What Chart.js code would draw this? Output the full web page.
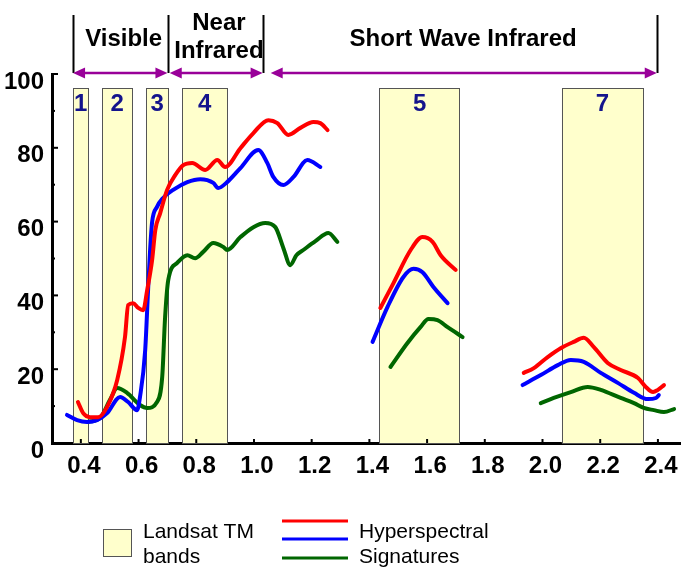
<!DOCTYPE html>
<html>
<head>
<meta charset="utf-8">
<script src="https://cdn.jsdelivr.net/npm/chart.js@4.4.1/dist/chart.umd.min.js"></script>
<style>
  body { margin: 0; background: #fff; }
  #spectra { display: block; }
</style>
</head>
<body>
<canvas id="spectra" width="681" height="568"></canvas>
<script>
// wavelength (um) / reflectance (%), null = break in the line
const redWl = [0.390, 0.408, 0.432, 0.460, 0.491, 0.526, 0.553, 0.564, 0.581, 0.599, 0.616, 0.630, 0.647, 0.658, 0.675, 0.699, 0.727, 0.755, 0.786, 0.831, 0.873, 0.900, 0.953, 0.998, 1.050, 1.081, 1.119, 1.161, 1.206, 1.230, 1.255,
  1.35,
  1.438, 1.484, 1.543, 1.584, 1.619, 1.647, 1.699,
  1.80,
  1.935, 1.970, 2.018, 2.063, 2.108, 2.143, 2.178, 2.226, 2.271, 2.331, 2.358, 2.383, 2.400, 2.421];
const redVal = [11.1, 8.1, 7.0, 7.0, 9.8, 17.1, 28.7, 37.4, 37.9, 36.6, 36.0, 41.5, 49.6, 57.7, 62.3, 68.6, 72.6, 75.3, 75.9, 74.0, 76.7, 74.8, 79.9, 84.0, 87.5, 86.7, 83.5, 85.4, 87.0, 86.7, 84.8,
  null,
  36.6, 43.4, 52.3, 55.8, 54.5, 50.9, 46.9,
  null,
  19.0, 20.3, 23.3, 25.7, 27.4, 28.5, 26.0, 21.7, 19.8, 17.6, 15.2, 13.8, 14.4, 15.7];

const blueWl = [0.352, 0.387, 0.421, 0.456, 0.491, 0.536, 0.564, 0.595, 0.605, 0.623, 0.633, 0.640, 0.647, 0.664, 0.685, 0.720, 0.769, 0.814, 0.859, 0.876, 0.907, 0.953, 1.015, 1.046, 1.067, 1.102, 1.137, 1.185, 1.230,
  1.32,
  1.411, 1.463, 1.518, 1.553, 1.584, 1.622, 1.671,
  1.80,
  1.931, 1.994, 2.053, 2.098, 2.143, 2.202, 2.261, 2.317, 2.365, 2.393, 2.403];
const blueVal = [7.6, 6.2, 5.7, 6.2, 8.1, 12.5, 11.1, 8.9, 12.5, 25.2, 41.5, 52.3, 59.9, 64.0, 66.4, 68.6, 70.7, 71.5, 70.5, 69.1, 70.7, 74.5, 79.4, 75.9, 72.1, 69.9, 72.1, 76.7, 74.8,
  null,
  27.4, 36.9, 45.0, 47.2, 46.3, 42.3, 37.9,
  null,
  15.7, 18.4, 21.1, 22.5, 22.0, 19.0, 16.3, 13.6, 11.9, 12.2, 13.0];

const greenWl = [0.425, 0.467, 0.501, 0.526, 0.560, 0.605, 0.630, 0.664, 0.682, 0.692, 0.703, 0.734, 0.769, 0.796, 0.824, 0.859, 0.894, 0.907, 0.953, 0.998, 1.039, 1.074, 1.102, 1.126, 1.147, 1.171, 1.213, 1.258, 1.289,
  1.38,
  1.473, 1.532, 1.577, 1.605, 1.636, 1.671, 1.723,
  1.85,
  1.994, 2.039, 2.098, 2.157, 2.202, 2.271, 2.317, 2.351, 2.386, 2.421, 2.456];
const greenVal = [5.7, 6.8, 11.7, 14.9, 13.6, 10.3, 9.5, 11.1, 17.9, 34.1, 44.2, 48.8, 50.9, 50.1, 51.8, 54.2, 53.1, 52.3, 55.8, 58.5, 59.6, 58.5, 52.8, 48.2, 50.9, 52.3, 54.7, 56.9, 54.5,
  null,
  20.6, 27.1, 31.4, 33.6, 33.3, 31.4, 28.7,
  null,
  10.8, 12.2, 13.8, 15.2, 14.4, 12.2, 10.8, 9.5, 8.9, 8.4, 9.2];

// Landsat TM bands as drawn
const bandNames = ['1', '2', '3', '4', '5', '7'];
const bandStart = [0.373, 0.474, 0.626, 0.751, 1.435, 2.067];
const bandEnd = [0.425, 0.578, 0.703, 0.907, 1.713, 2.348];
const bandTop = 96.2;

// spectral regions across the top
const regionNames = [['Visible'], ['Near', 'Infrared'], ['Short Wave Infrared']];
const regionStart = [0.373, 0.703, 1.033];
const regionEnd = [0.703, 1.033, 2.396];
const arrowStart = [0.373, 0.708, 1.058];
const arrowEnd = [0.700, 1.030, 2.396];

const xTicks = [0.4, 0.6, 0.8, 1.0, 1.2, 1.4, 1.6, 1.8, 2.0, 2.2, 2.4];
const yTicks = [0, 20, 40, 60, 80, 100];

const legendBand = ['Landsat TM', 'bands'];
const legendLine = ['Hyperspectral', 'Signatures'];

const BOLD = 'bold 24px Arial, "Liberation Sans", sans-serif';
const PLAIN = '21px Arial, "Liberation Sans", sans-serif';

function pts(wl, val) {
  return wl.map((x, i) => ({ x: x, y: val[i] }));
}

const bandsPlugin = {
  id: 'bands',
  beforeDatasetsDraw(chart) {
    const ctx = chart.ctx, xs = chart.scales.x, ys = chart.scales.y;
    ctx.save();
    bandNames.forEach((name, i) => {
      const x0 = xs.getPixelForValue(bandStart[i]);
      const x1 = xs.getPixelForValue(bandEnd[i]);
      const y0 = ys.getPixelForValue(bandTop);
      const y1 = ys.getPixelForValue(0);
      ctx.fillStyle = '#ffffcc';
      ctx.fillRect(x0, y0, x1 - x0, y1 - y0);
      ctx.strokeStyle = '#555';
      ctx.lineWidth = 1;
      ctx.strokeRect(Math.round(x0) + 0.5, Math.round(y0) + 0.5, Math.round(x1 - x0), Math.round(y1 - y0));
      ctx.fillStyle = '#14148c';
      ctx.font = BOLD;
      ctx.textAlign = 'center';
      ctx.textBaseline = 'middle';
      ctx.fillText(name, (x0 + x1) / 2, y0 + 16);
    });
    ctx.restore();
  },
  afterDraw(chart) {
    const ctx = chart.ctx, xs = chart.scales.x, ys = chart.scales.y;
    const area = chart.chartArea;
    ctx.save();

    // inward tick marks
    ctx.strokeStyle = '#000';
    ctx.lineWidth = 2;
    yTicks.forEach(v => {
      if (v === 0) return;
      const y = ys.getPixelForValue(v);
      ctx.beginPath(); ctx.moveTo(area.left, y); ctx.lineTo(area.left + 6, y); ctx.stroke();
      const ym = ys.getPixelForValue(v - 10);
      ctx.beginPath(); ctx.moveTo(area.left, ym); ctx.lineTo(area.left + 3, ym); ctx.stroke();
    });
    xTicks.forEach(v => {
      const x = xs.getPixelForValue(v);
      ctx.beginPath(); ctx.moveTo(x, area.bottom); ctx.lineTo(x, area.bottom - 4); ctx.stroke();
    });

    // region headers
    const arrowY = area.top - 1;
    const allEdges = regionStart.concat([regionEnd[regionEnd.length - 1]]);
    ctx.lineWidth = 2;
    allEdges.forEach(v => {
      const x = Math.round(xs.getPixelForValue(v)) + 0.5;
      ctx.beginPath(); ctx.moveTo(x, 15); ctx.lineTo(x, arrowY); ctx.stroke();
    });
    const purple = '#990099';
    ctx.strokeStyle = purple;
    ctx.fillStyle = purple;
    ctx.lineWidth = 2.5;
    arrowStart.forEach((s, i) => {
      const x0 = xs.getPixelForValue(s), x1 = xs.getPixelForValue(arrowEnd[i]);
      ctx.beginPath(); ctx.moveTo(x0 + 6, arrowY); ctx.lineTo(x1 - 6, arrowY); ctx.stroke();
      ctx.beginPath();
      ctx.moveTo(x0, arrowY); ctx.lineTo(x0 + 12, arrowY - 5.5); ctx.lineTo(x0 + 12, arrowY + 5.5); ctx.closePath(); ctx.fill();
      ctx.beginPath();
      ctx.moveTo(x1, arrowY); ctx.lineTo(x1 - 12, arrowY - 5.5); ctx.lineTo(x1 - 12, arrowY + 5.5); ctx.closePath(); ctx.fill();
    });
    ctx.fillStyle = '#000';
    ctx.font = BOLD;
    ctx.textAlign = 'center';
    ctx.textBaseline = 'middle';
    regionNames.forEach((lines, i) => {
      const cx = (xs.getPixelForValue(regionStart[i]) + xs.getPixelForValue(regionEnd[i])) / 2 + 3;
      if (lines.length === 1) {
        ctx.fillText(lines[0], cx, 39);
      } else {
        ctx.fillText(lines[0], cx, 23);
        ctx.fillText(lines[1], cx, 51);
      }
    });

    // legend
    ctx.fillStyle = '#ffffcc';
    ctx.fillRect(103, 529, 29, 28);
    ctx.strokeStyle = '#555';
    ctx.lineWidth = 1;
    ctx.strokeRect(103.5, 529.5, 28, 27);
    ctx.fillStyle = '#000';
    ctx.font = PLAIN;
    ctx.textAlign = 'left';
    ctx.textBaseline = 'alphabetic';
    ctx.fillText(legendBand[0], 143, 538);
    ctx.fillText(legendBand[1], 143, 563);
    ctx.fillText(legendLine[0], 359, 538);
    ctx.fillText(legendLine[1], 359, 563);
    const lineYs = [521, 539, 558];
    chart.data.datasets.forEach((ds, i) => {
      ctx.strokeStyle = ds.borderColor;
      ctx.lineWidth = 3;
      ctx.beginPath(); ctx.moveTo(282, lineYs[i]); ctx.lineTo(348, lineYs[i]); ctx.stroke();
    });
    ctx.restore();
  }
};

const lineStyle = {
  pointRadius: 0,
  borderWidth: 4,
  cubicInterpolationMode: 'monotone',
  spanGaps: false,
  fill: false,
  borderCapStyle: 'round',
  borderJoinStyle: 'round'
};

new Chart(document.getElementById('spectra'), {
  type: 'line',
  data: {
    datasets: [
      Object.assign({ label: 'Red', data: pts(redWl, redVal), borderColor: '#ff0000' }, lineStyle),
      Object.assign({ label: 'Blue', data: pts(blueWl, blueVal), borderColor: '#0000ff' }, lineStyle),
      Object.assign({ label: 'Green', data: pts(greenWl, greenVal), borderColor: '#006600' }, lineStyle)
    ]
  },
  options: {
    responsive: false,
    animation: false,
    devicePixelRatio: 1,
    layout: { padding: { top: 74, right: 0, left: 0, bottom: 0 } },
    plugins: {
      legend: { display: false },
      tooltip: { enabled: false }
    },
    scales: {
      x: {
        type: 'linear',
        min: 0.3,
        max: 2.48,
        afterBuildTicks: scale => { scale.ticks = xTicks.map(v => ({ value: v })); },
        afterFit: scale => { scale.height = 125; },
        grid: { display: false },
        border: { display: true, color: '#000', width: 3 },
        ticks: {
          autoSkip: false,
          maxRotation: 0,
          padding: 1,
          labelOffset: 3,
          color: '#000',
          font: { family: 'Arial, "Liberation Sans", sans-serif', size: 24, weight: 'bold' },
          callback: v => v.toFixed(1)
        }
      },
      y: {
        min: 0,
        max: 100,
        afterBuildTicks: scale => { scale.ticks = yTicks.map(v => ({ value: v })); },
        afterFit: scale => { scale.width = 52; },
        grid: { display: false },
        border: { display: true, color: '#000', width: 3 },
        ticks: {
          padding: 0,
          labelOffset: 8,
          color: '#000',
          font: { family: 'Arial, "Liberation Sans", sans-serif', size: 24, weight: 'bold' }
        }
      }
    }
  },
  plugins: [bandsPlugin]
});
</script>
</body>
</html>
